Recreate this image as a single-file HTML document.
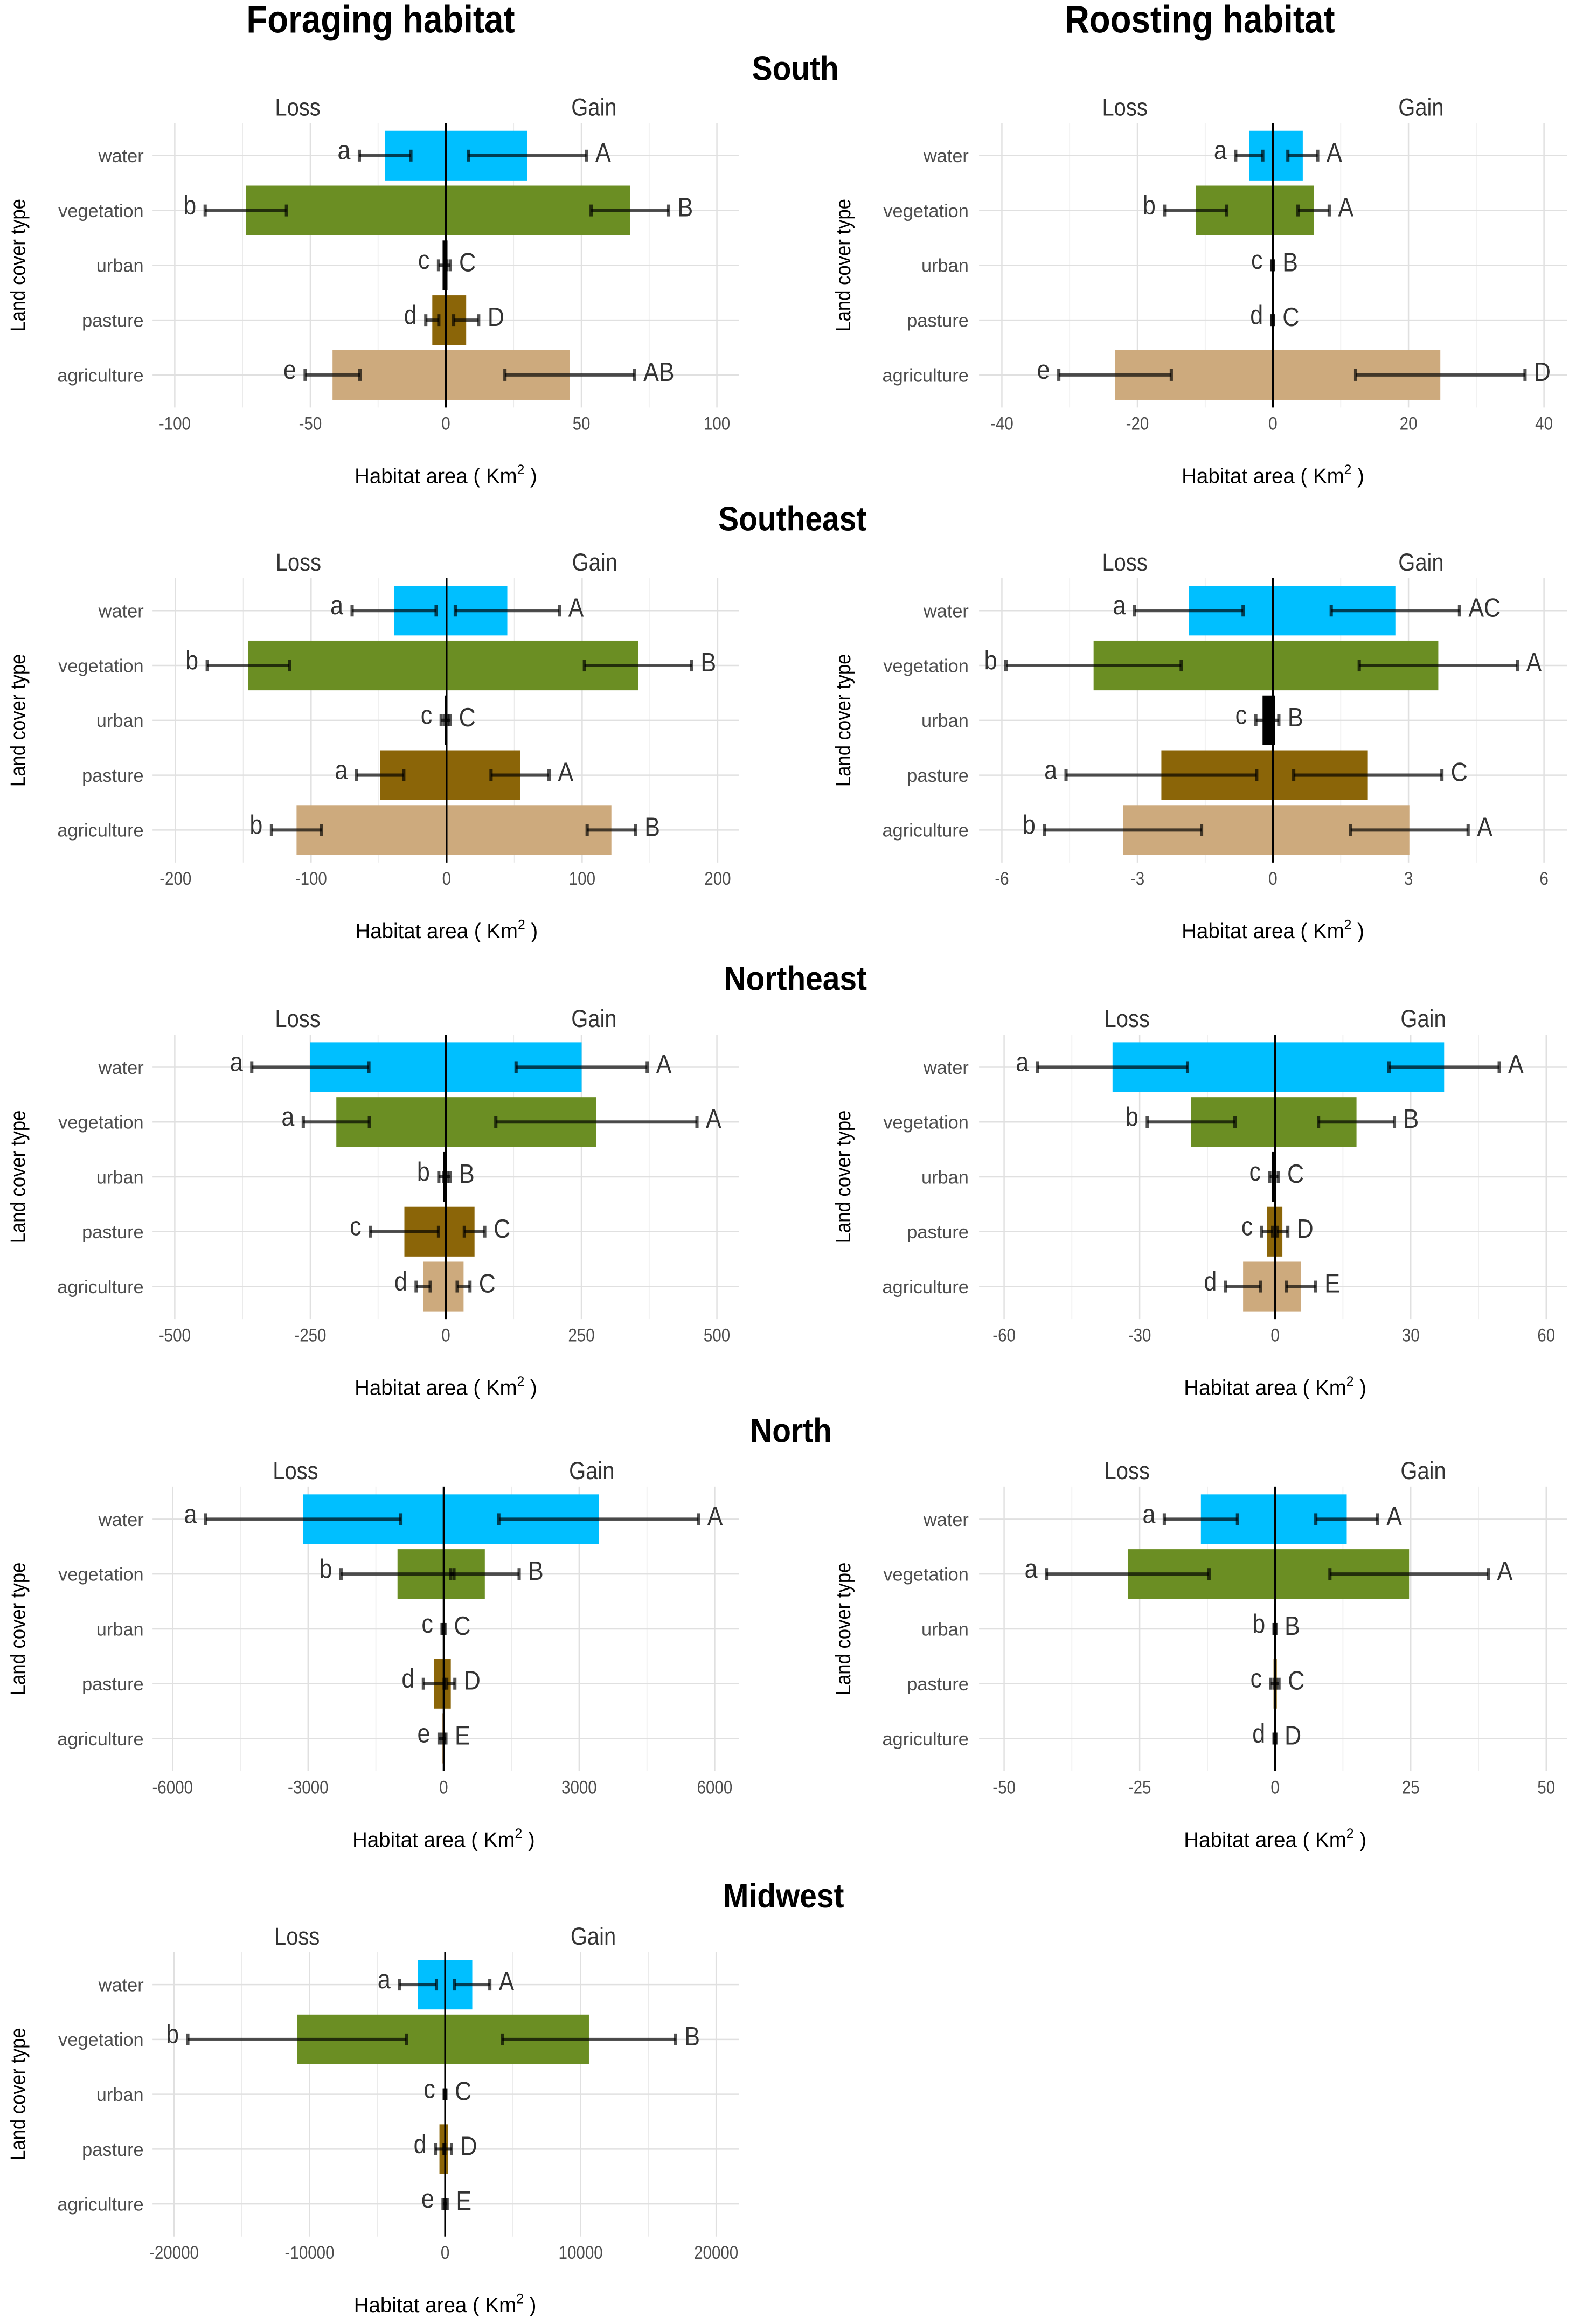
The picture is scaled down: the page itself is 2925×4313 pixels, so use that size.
<!DOCTYPE html>
<html><head><meta charset="utf-8">
<style>
html,body{margin:0;padding:0;background:#fff;}
svg{display:block;}
text{font-family:"Liberation Sans",sans-serif;}
</style></head>
<body>
<svg id="chart" xmlns="http://www.w3.org/2000/svg" width="2925" height="4313" viewBox="0 0 1064 1568" preserveAspectRatio="none">
<rect x="0" y="0" width="1064" height="1568" fill="#ffffff"/>
<text id="t1" x="257" y="22" text-anchor="middle" font-size="26" font-weight="bold" fill="#000">Foraging habitat</text>
<text id="t2" x="810" y="22" text-anchor="middle" font-size="26" font-weight="bold" fill="#000">Roosting habitat</text>
<g id="panels"></g>
</svg>
<script>
// ---- data ----
const categories = ["water","vegetation","urban","pasture","agriculture"];
const regions = ["South","Southeast","Northeast","North","Midwest"];
const lossMean = [
 [-22.4,-73.8,-1.2,-5,-41.8],
 [-3.5,-11.4,-0.2,-0.15,-23.3],
 [-38.7,-146.3,-1.5,-49,-110.7],
 [-1.86,-3.97,-0.23,-2.47,-3.32],
 [-250,-202,-5,-76.5,-41.8],
 [-36,-18.6,-0.7,-1.75,-7.1],
 [-3105,-1021,-15,-218,-40],
 [-13.7,-27.2,-0.2,-0.3,-0.2],
 [-2005,-10920,-40,-418,-50]
];
const lossErr = [
 [9.5,15,1.5,2.4,10.1],
 [2,4.6,0,0,8.3],
 [31,30.3,2.5,17.4,18.5],
 [1.2,1.94,0.15,2.11,1.74],
 [108,61,8,63,13],
 [16.6,9.7,0.5,1.2,3.85],
 [2159,1250,20,230,60],
 [6.75,15,0,0.5,0],
 [1365,8065,30,300,100]
];
const gainMean = [
 [30.1,67.9,0.6,7.5,45.7],
 [4.4,6,0.1,0.1,24.7],
 [44.8,141.3,0.5,54.2,121.6],
 [2.71,3.66,0.05,2.1,3.02],
 [250.5,277.7,2,52.9,32.7],
 [37.4,18,0.2,1.6,5.7],
 [3431,912,10,159,10],
 [13.2,24.7,0.1,0.3,0.1],
 [2005,10610,30,223,50]
];
const gainErr = [
 [21.8,14.3,1,4.6,23.9],
 [2.2,2.3,0,0,12.5],
 [38.4,39.6,2,21.4,17.9],
 [1.42,1.75,0.08,1.64,1.3],
 [121,185.5,6,18.8,11.8],
 [12.2,8.4,0.5,1.2,3.25],
 [2209,760,20,90,40],
 [5.7,14.6,0,0.4,0],
 [1295,6390,30,250,100]
];
const lossLetters = [
 ["a","b","c","d","e"],["a","b","c","d","e"],["a","b","c","a","b"],
 ["a","b","c","a","b"],["a","a","b","c","d"],["a","b","c","c","d"],
 ["a","b","c","d","e"],["a","a","b","c","d"],["a","b","c","d","e"]
];
const gainLetters = [
 ["A","B","C","D","AB"],["A","A","B","C","D"],["A","B","C","A","B"],
 ["AC","A","B","C","A"],["A","A","B","C","C"],["A","B","C","D","E"],
 ["A","B","C","D","E"],["A","A","B","C","D"],["A","B","C","D","E"]
];
const tickValues = [
 [-100,-50,0,50,100],[-40,-20,0,20,40],[-200,-100,0,100,200],
 [-6,-3,0,3,6],[-500,-250,0,250,500],[-60,-30,0,30,60],
 [-6000,-3000,0,3000,6000],[-50,-25,0,25,50],[-20000,-10000,0,10000,20000]
];
const tickLabels = [
 ["-100","-50","0","50","100"],["-40","-20","0","20","40"],["-200","-100","0","100","200"],
 ["-6","-3","0","3","6"],["-500","-250","0","250","500"],["-60","-30","0","30","60"],
 ["-6000","-3000","0","3000","6000"],["-50","-25","0","25","50"],["-20000","-10000","0","10000","20000"]
];
// ---- layout (not data) ----
const colors = {water:"#00BFFF",vegetation:"#6B8E23",urban:"#000000",pasture:"#8B6508",agriculture:"#CDAA7D"};
const rowWaterY = [105,412,720,1025,1339];
const rowSectionY = [54,358,668,973,1287];
const sectionX = [537,535,537,534,529];
const colZero = [[301,859.4],[301.5,859.4],[301,860.9],[299.5,860.9],[300.5,860]];
const colPlot = [[103,499],[661,1058]];
const colLabelX = [97,654];
const colYTitleX = [17,574];
const halfSpan = 183;
const rowStep = 37;
const barH = 33.5;

const NS = "http://www.w3.org/2000/svg";
const root = document.getElementById("panels");
const squeezeList = [];
function mk(tag, attrs, parent){
  const e = document.createElementNS(NS, tag);
  for (const k in attrs) e.setAttribute(k, attrs[k]);
  (parent||root).appendChild(e);
  return e;
}
function sq(el, f){ squeezeList.push([el,f]); }
sq(document.getElementById("t1"), 0.89);
sq(document.getElementById("t2"), 0.89);

regions.forEach((reg, r) => {
  const st = mk("text",{x:sectionX[r],y:rowSectionY[r],"text-anchor":"middle","font-size":"23","font-weight":"bold",fill:"#000"});
  
  
  st.textContent = reg;
  sq(st, 0.9);
});

for (let p = 0; p < 9; p++) {
  const r = Math.floor(p/2), c = p % 2;
  const g = mk("g",{});
  
  
  const zero = colZero[r][c];
  const tv = tickValues[p];
  const maxT = tv[tv.length-1];
  const xs = v => zero + v / maxT * halfSpan;
  const y0 = rowWaterY[r];
  const ys = i => y0 + i*rowStep;
  const top = y0 - 22, bottom = ys(4) + 22;
  const [pl, pr] = colPlot[c];
  for (let i = 0; i < tv.length-1; i++) {
    const mx = xs((tv[i]+tv[i+1])/2);
    const ml = mk("line",{x1:mx,x2:mx,y1:top,y2:bottom,stroke:"#EBEBEB","stroke-width":"0.6"},g);
    
    
  }
  tv.forEach((v,i) => {
    const gl = mk("line",{x1:xs(v),x2:xs(v),y1:top,y2:bottom,stroke:"#E0E0E0","stroke-width":"0.9"},g);
    
    
    const tl = mk("text",{x:xs(v),y:bottom+15,"text-anchor":"middle","font-size":"12.5",fill:"#4D4D4D"},g);
    
    
    tl.textContent = tickLabels[p][i];
    sq(tl, 0.86);
  });
  categories.forEach((cat,i) => {
    const hl = mk("line",{x1:pl,x2:pr,y1:ys(i),y2:ys(i),stroke:"#E0E0E0","stroke-width":"0.9"},g);
    
    
    const cl = mk("text",{x:colLabelX[c],y:ys(i)+4.5,"text-anchor":"end","font-size":"12.5",fill:"#4D4D4D"},g);
    
    
    cl.textContent = cat;
  });
  categories.forEach((cat,i) => {
    const lx = xs(lossMean[p][i]), gx = xs(gainMean[p][i]);
    const lb = mk("rect",{x:Math.min(lx,zero),y:ys(i)-barH/2,width:Math.max(Math.abs(zero-lx),0.4),height:barH,fill:colors[cat]},g);
    
    
    const gb = mk("rect",{x:zero,y:ys(i)-barH/2,width:Math.max(gx-zero,0.4),height:barH,fill:colors[cat]},g);
    
    
  });
  const zl = mk("line",{x1:zero,x2:zero,y1:top,y2:bottom,stroke:"#000","stroke-width":"1.2"},g);
  
  
  categories.forEach((cat,i) => {
    const y = ys(i);
    const sets = [[lossMean[p][i], lossErr[p][i], 'loss'],[gainMean[p][i], gainErr[p][i], 'gain']];
    sets.forEach(([m,e,kind]) => {
      const a = xs(m-e), b = xs(m+e);
      const eg = mk("g",{stroke:"#000","stroke-opacity":"0.68","stroke-width":"2.2"},g);
      
      
      mk("line",{x1:a,x2:b,y1:y,y2:y},eg);
      mk("line",{x1:a,x2:a,y1:y-4,y2:y+4},eg);
      mk("line",{x1:b,x2:b,y1:y-4,y2:y+4},eg);
      const t = mk("text",{"font-size":"18",fill:"#333"},g);
      if (kind === 'loss') {
        t.setAttribute("x", Math.min(a, zero) - 6);
        t.setAttribute("y", y + 2.5);
        t.setAttribute("text-anchor","end");
        t.textContent = lossLetters[p][i];
      } else {
        t.setAttribute("x", Math.max(b, zero) + 6);
        t.setAttribute("y", y + 4);
        t.setAttribute("text-anchor","start");
        t.textContent = gainLetters[p][i];
      }
      
      
      sq(t, 0.87);
    });
  });
  const lossT = mk("text",{x:zero-100,y:y0-27,"text-anchor":"middle","font-size":"16.5",fill:"#333"},g);
  
  
  lossT.textContent = "Loss";
  sq(lossT, 0.88);
  const gainT = mk("text",{x:zero+100,y:y0-27,"text-anchor":"middle","font-size":"16.5",fill:"#333"},g);
  
  
  gainT.textContent = "Gain";
  sq(gainT, 0.88);
  const xt = mk("text",{x:zero,y:bottom+51,"text-anchor":"middle","font-size":"14",fill:"#000"},g);
  
  
  xt.appendChild(document.createTextNode("Habitat area ( Km"));
  const sup = mk("tspan",{"font-size":"9",dy:"-6"},xt);
  sup.textContent = "2";
  const rest = mk("tspan",{dy:"6"},xt);
  rest.textContent = " )";
  const cy = ys(2);
  const yt = mk("text",{x:colYTitleX[c],y:cy,"text-anchor":"middle","font-size":"14",fill:"#000",transform:`rotate(-90 ${colYTitleX[c]} ${cy})`},g);
  
  
  yt.textContent = "Land cover type";
  sq(yt, 0.9);
}
squeezeList.forEach(([el,f]) => {
  const w = el.getComputedTextLength();
  if (w > 0) {
    el.setAttribute("textLength", (w*f).toFixed(2));
    el.setAttribute("lengthAdjust", "spacingAndGlyphs");
  }
});
</script>
</body></html>
